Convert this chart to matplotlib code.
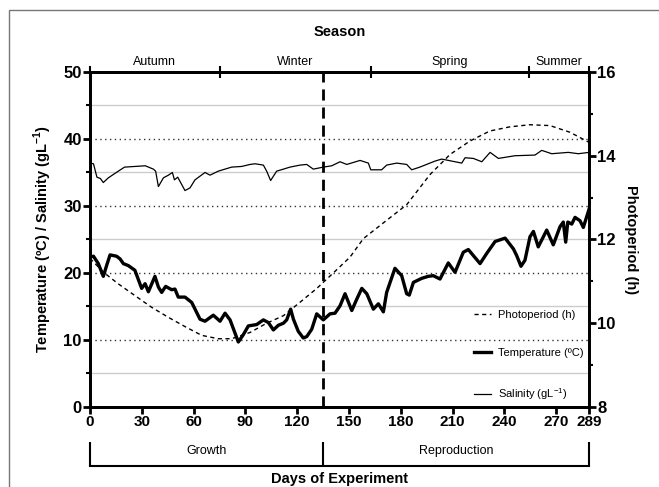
import numpy as np
import matplotlib
matplotlib.use("Agg")
import matplotlib.pyplot as plt
from matplotlib.patches import Rectangle

plt.rcParams['font.family'] = ['Liberation Sans', 'DejaVu Sans']
plt.rcParams['mathtext.fontset'] = 'custom'
plt.rcParams['mathtext.rm'] = 'Liberation Sans'
plt.rcParams['mathtext.bf'] = 'Liberation Sans:bold'

# temperature (ºC)
temp_day = [0, 2, 4.8, 7.7, 9.6, 11.6, 15.4, 17.4, 19.3, 22.2, 26, 29.9, 31.9, 33.8, 37.6,
            39.6, 41.5, 43.8, 47.3, 49.2, 51.1, 55, 58.9, 63.7, 66.6, 71.4, 75.3, 78.2, 81.1,
            83, 85.9, 88.8, 91.7, 96.5, 100.4, 103.3, 106.2, 109.1, 112, 113.9, 116.2, 117.8,
            120.6, 123.5, 125.5, 128.4, 131.3, 135.1, 139, 141.9, 144.8, 147.7, 151.6, 154.5,
            157.4, 160.3, 164.1, 167, 169.9, 171.8, 176.6, 180.5, 183.4, 184.9, 187.3, 192.1,
            195.9, 198.8, 202.7, 207.5, 211.4, 216.2, 219.1, 222, 225.9, 229.7, 234.6, 240.4,
            245.2, 247.1, 249.6, 251.9, 254.8, 256.8, 259.6, 264.5, 268.3, 272.2, 274.1, 275.5,
            276.7, 279, 280.9, 283.8, 285.7, 289]
temp_val = [22.4, 22.5, 21.4, 19.5, 21.1, 22.7, 22.5, 22.1, 21.4, 21.1, 20.4, 17.7, 18.4, 17.2,
            19.5, 17.9, 17.1, 18.0, 17.5, 17.6, 16.4, 16.4, 15.6, 13.1, 12.8, 13.7, 12.8, 14.0,
            13.0, 11.7, 9.7, 10.8, 12.1, 12.3, 13.0, 12.6, 11.5, 12.2, 12.5, 13.0, 14.6, 13.1,
            11.3, 10.3, 10.5, 11.6, 13.9, 13.0, 13.9, 14.0, 15.1, 16.9, 14.4, 16.1, 17.7, 16.9,
            14.6, 15.4, 14.2, 17.1, 20.7, 19.6, 16.9, 16.7, 18.6, 19.2, 19.5, 19.6, 19.1, 21.5,
            20.1, 23.1, 23.5, 22.6, 21.4, 22.9, 24.7, 25.2, 23.6, 22.6, 21.0, 21.9, 25.4, 26.2,
            23.9, 26.4, 24.2, 26.9, 27.6, 24.6, 27.6, 27.3, 28.3, 27.8, 26.8, 29.5]

# salinity (g/L)
sal_day = [0, 2, 4, 6, 7.7, 10.6, 16.4, 20, 26, 32, 36.7, 38, 39.6, 42.5, 45.4, 47.7, 48.9,
           50.8, 53.1, 55, 57.9, 60.8, 66.6, 69.5, 74.3, 82, 87.8, 92.7, 95.6, 100.4, 102.3,
           104.6, 108.1, 112, 115.8, 121.6, 125.5, 129.3, 135.1, 140, 144.8, 148.7, 156.4,
           161.2, 162.6, 168.9, 171.8, 177.6, 183.4, 186.3, 191, 199.8, 203.7, 209.5, 215.3,
           217.2, 222, 226.9, 231.7, 236.5, 246.1, 257.7, 261.6, 267.4, 277, 282.8, 289]
sal_val = [36.4, 36.3, 34.3, 34.1, 33.5, 34.2, 35.2, 35.8, 35.9, 36.0, 35.5, 35.2, 32.9, 34.2,
           34.6, 35.0, 33.9, 34.3, 33.2, 32.3, 32.7, 33.9, 35.0, 34.6, 35.2, 35.8, 35.9, 36.2,
           36.3, 36.1, 35.2, 33.8, 35.2, 35.5, 35.8, 36.1, 36.2, 35.5, 35.8, 36.0, 36.6, 36.2,
           36.8, 36.4, 35.4, 35.4, 36.1, 36.4, 36.2, 35.4, 35.8, 36.7, 37.0, 36.7, 36.4, 37.2,
           37.1, 36.6, 38.0, 37.1, 37.5, 37.6, 38.3, 37.8, 38.0, 37.8, 38.0]

# photoperiod (h)
photo_day = [0, 7.7, 16.4, 26, 35.7, 45.4, 55, 64.7, 74.3, 82, 92.7, 102.3, 112, 121.6, 131.3,
             140.9, 150.6, 158.3, 170, 183.4, 196.9, 208.5, 220, 231.5, 243.2, 254.8, 266.4,
             278, 289]
photo_val = [11.55, 11.22, 10.94, 10.66, 10.38, 10.14, 9.92, 9.71, 9.63, 9.63, 9.78, 10.0,
             10.18, 10.5, 10.83, 11.2, 11.58, 12.02, 12.4, 12.83, 13.55, 14.03, 14.35, 14.59,
             14.69, 14.74, 14.72, 14.56, 14.32]

seasons = ['Autumn', 'Winter', 'Spring', 'Summer']
season_edges = [0, 75, 163, 254, 289]
phases = ['Growth', 'Reproduction']
phase_edges = [0, 135, 289]
day_ticks = [0, 30, 60, 90, 120, 150, 180, 210, 240, 270, 289]

fig = plt.figure(figsize=(6.59, 4.87), dpi=100)
ax = fig.add_axes([0.1366, 0.1643, 0.7572, 0.6879])
ax2 = ax.twinx()

ax.set_xlim(0, 289)
ax.set_ylim(0, 50)
ax2.set_ylim(8, 16)

# grid lines
for v in [10, 20, 30, 40]:
    ax.axhline(v, color='#333333', lw=1, ls=(0, (1, 2.5)), zorder=1)
for v in [5, 15, 25, 35, 45]:
    ax.axhline(v, color='#cccccc', lw=1, zorder=1)

lt, = ax.plot(temp_day, temp_val, color='black', lw=2.4, label='Temperature (ºC)', zorder=3)
ls, = ax.plot(sal_day, sal_val, color='black', lw=0.9, label='Salinity (gL$^{-1}$)', zorder=3)
lp, = ax2.plot(photo_day, photo_val, color='black', lw=1.0, ls=(0, (3, 2.5)),
               label='Photoperiod (h)', zorder=3)
ax.axvline(phase_edges[1], color='black', lw=2, ls=(0, (4, 2.5)), zorder=2)

for a in (ax, ax2):
    for s in a.spines.values():
        s.set_linewidth(2)

ax.set_yticks(range(0, 51, 10))
ax.set_yticks(range(5, 50, 10), minor=True)
ax2.set_yticks(range(8, 17, 2))
ax2.set_yticks(range(9, 16, 2), minor=True)
ax.set_xticks(day_ticks)
ax.tick_params(axis='both', which='major', width=2, length=5, labelsize=11, pad=1)
ax.tick_params(axis='y', which='minor', width=1.5, length=3)
ax2.tick_params(axis='y', which='major', width=2, length=5, labelsize=13, pad=1)
ax2.tick_params(axis='y', which='minor', width=1.5, length=3)
for lab in ax.get_xticklabels() + ax.get_yticklabels() + ax2.get_yticklabels():
    lab.set_fontweight('bold')
for lab in ax.get_yticklabels() + ax2.get_yticklabels():
    lab.set_fontsize(12)

ax.set_ylabel(r'Temperature (ºC) / Salinity (gL$^{\mathbf{-1}}$)', fontsize=10.5,
              fontweight='bold', labelpad=7)
ax2.set_ylabel('Photoperiod (h)', fontsize=10.5, fontweight='bold', rotation=270, labelpad=16)

# season axis on top
top = ax.secondary_xaxis('top')
top.set_xticks(season_edges)
top.set_xticklabels([])
top.set_xticks([(a + b) / 2 for a, b in zip(season_edges[:-1], season_edges[1:])],
               seasons, minor=True)
top.tick_params(which='major', direction='inout', length=9, width=1.5)
top.tick_params(which='minor', length=0, labelsize=9, pad=3)
top.spines['top'].set_linewidth(2)
top.set_xlabel('Season', fontsize=10.5, fontweight='bold', labelpad=14)

# phase bracket below
bot = ax.secondary_xaxis(-0.176)
bot.set_xticks(phase_edges)
bot.set_xticklabels([])
bot.tick_params(which='major', direction='in', length=17, width=1.5)
bot.spines['bottom'].set_linewidth(1.5)
bot.set_xlabel('Days of Experiment', fontsize=10.5, fontweight='bold', labelpad=1)
for name, a, b in zip(phases, phase_edges[:-1], phase_edges[1:]):
    ax.text((a + b) / 2, -0.131, name, transform=ax.get_xaxis_transform(),
            ha='center', va='center', fontsize=9)

ax.legend([lp, lt, ls], [lp.get_label(), lt.get_label(), ls.get_label()],
          loc='lower right', frameon=False, alignment='right', fontsize=8,
          labelspacing=2.55, handlelength=1.5, handletextpad=0.7, borderaxespad=0.05)

fig.add_artist(Rectangle((9 / 659, -0.05), 1.0, 1.05 - 10 / 487, transform=fig.transFigure,
                         fill=False, edgecolor='#777777', lw=1))

fig.savefig('out.png', dpi=100)
